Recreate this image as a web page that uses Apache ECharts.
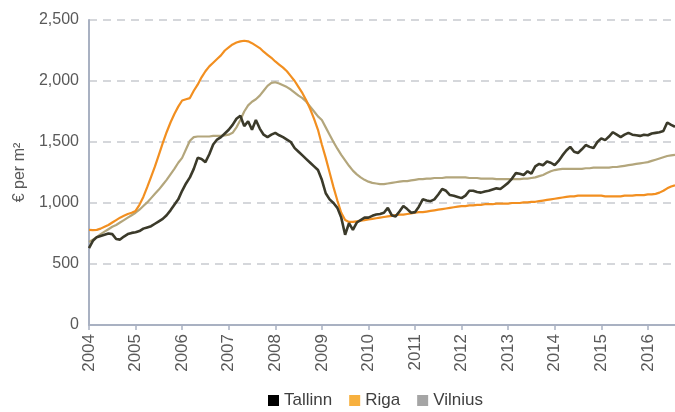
<!DOCTYPE html>
<html>
<head>
<meta charset="utf-8">
<script src="https://cdn.jsdelivr.net/npm/echarts@6/dist/echarts.min.js"></script>
<style>
  html, body { margin: 0; padding: 0; background: #fff; }
  #chart { width: 675px; height: 412px; }
</style>
</head>
<body>
<div id="chart"></div>
<script>
// monthly prices, Jan 2004 - Aug 2016, € per m²
const years = [2004, 2005, 2006, 2007, 2008, 2009, 2010, 2011, 2012, 2013, 2014, 2015, 2016]
const lastMonth = 8

const tallinn = [
  630, 690, 720, 730, 740, 750, 745, 705, 700, 725, 745, 755,
  760, 770, 790, 800, 810, 830, 850, 870, 900, 940, 985, 1030,
  1100, 1160, 1210, 1280, 1370, 1360, 1335, 1400, 1480, 1520, 1540, 1570,
  1600, 1640, 1690, 1715, 1630, 1670, 1600, 1680, 1610, 1560, 1540, 1560,
  1575, 1555, 1540, 1520, 1500, 1450, 1420, 1390, 1360, 1330, 1300, 1270,
  1190, 1080, 1030, 1000, 960, 880, 740, 835, 780, 840, 860, 880,
  880, 895, 905, 910, 920, 960, 900, 890, 930, 975, 950, 920,
  925, 970, 1030, 1020, 1015, 1030, 1070, 1115, 1100, 1065, 1060, 1050,
  1040, 1060, 1100, 1100, 1090, 1085, 1095, 1100, 1110, 1120, 1115, 1140,
  1165, 1200, 1245, 1240, 1230, 1260, 1240, 1300, 1320, 1310, 1340, 1330,
  1310, 1345, 1390, 1430, 1460, 1420, 1410, 1440, 1475, 1460, 1450, 1500,
  1530, 1515, 1545, 1580, 1560, 1540, 1560, 1575, 1560, 1555, 1550, 1560,
  1555, 1570, 1575, 1580, 1590, 1660, 1640, 1625
]

const riga = [
  780, 778, 780, 790, 805, 820, 840, 860, 880, 895, 910, 920,
  935, 985, 1050, 1130, 1215, 1300, 1395, 1490, 1580, 1660, 1730, 1790,
  1840, 1850, 1860, 1920, 1970, 2030, 2080, 2120, 2150, 2180, 2210, 2250,
  2275, 2300, 2315, 2325, 2330, 2325, 2310, 2290, 2270, 2240, 2215, 2190,
  2160, 2135, 2110, 2080, 2040, 2000, 1950, 1900, 1840, 1770, 1690, 1600,
  1480, 1370, 1250, 1130, 1020, 920, 860, 845, 845, 850, 855, 860,
  865, 870, 875, 880, 885, 890, 895, 900, 905, 905, 910, 915,
  920, 925, 925, 930, 935, 940, 945, 950, 955, 960, 965, 970,
  975, 975, 980, 980, 985, 985, 990, 990, 990, 995, 995, 995,
  995, 1000, 1000, 1000, 1005, 1005, 1010, 1010, 1015, 1020, 1025, 1030,
  1035, 1040, 1045, 1050, 1055, 1055, 1060, 1060, 1060, 1060, 1060, 1060,
  1060, 1055, 1055, 1055, 1055, 1055, 1060, 1060, 1060, 1065, 1065, 1065,
  1070, 1070, 1075, 1085, 1100, 1120, 1135, 1145
]

const vilnius = [
  680, 700, 720, 745, 765, 785, 805, 820, 840, 860, 880, 900,
  920, 945, 975, 1005, 1040, 1075, 1110, 1150, 1190, 1235, 1280, 1330,
  1370, 1440, 1510, 1540, 1545, 1545, 1545, 1545, 1550, 1550, 1550, 1555,
  1560, 1575, 1620, 1680, 1750, 1800, 1830, 1850, 1880, 1920, 1960, 1985,
  1990, 1980, 1965, 1950, 1930, 1905, 1880, 1860, 1830, 1790, 1750, 1710,
  1680, 1620, 1560, 1500, 1445, 1395, 1350, 1305, 1265, 1235, 1210, 1190,
  1175, 1165, 1160, 1155, 1155, 1160, 1165, 1170, 1175, 1180, 1180, 1185,
  1190, 1195, 1195, 1200, 1200, 1205, 1205, 1205, 1210, 1210, 1210, 1210,
  1210, 1210, 1205, 1205, 1205, 1200, 1200, 1200, 1200, 1195, 1195, 1195,
  1195, 1195, 1195, 1195, 1200, 1200, 1205, 1210, 1220, 1230, 1245, 1260,
  1270, 1275, 1280, 1280, 1280, 1280, 1280, 1280, 1285, 1285, 1290, 1290,
  1290, 1290, 1290, 1295, 1295, 1300, 1305, 1310, 1315, 1320, 1325, 1330,
  1335, 1345, 1355, 1365, 1375, 1385, 1390, 1395
]

// month categories "2004-01" ...
const months = []
years.forEach(y => {
  const n = y === years[years.length - 1] ? lastMonth : 12
  for (let m = 1; m <= n; m++) months.push(y + '-' + (m < 10 ? '0' + m : m))
})

const isJan = (i, v) => v.slice(5) === '01'
const axisColor = '#a9b1c2'
const textColor = '#595959'
const font = 'Liberation Sans, Arial, sans-serif'

const chart = echarts.init(document.getElementById('chart'))
chart.setOption({
  animation: false,
  grid: { left: 89, right: 0, top: 20, bottom: 87 },
  legend: {
    top: 387,
    left: 263,
    icon: 'rect',
    itemWidth: 11,
    itemHeight: 11,
    itemGap: 17,
    textStyle: { color: '#404040', fontSize: 17, fontFamily: font },
    data: ['Tallinn', 'Riga', 'Vilnius']
  },
  xAxis: {
    type: 'category',
    data: months,
    boundaryGap: false,
    axisLine: { lineStyle: { color: axisColor, width: 2 } },
    axisTick: { interval: isJan, length: 5, lineStyle: { color: axisColor, width: 1.5 } },
    axisLabel: {
      interval: isJan,
      rotate: 90,
      margin: 9,
      color: textColor,
      fontSize: 17,
      fontFamily: font,
      formatter: v => v.slice(0, 4)
    },
    splitLine: { show: false }
  },
  yAxis: {
    type: 'value',
    min: 0,
    max: 2500,
    interval: 500,
    name: '€ per m²',
    nameLocation: 'middle',
    nameGap: 60,
    nameTextStyle: { color: textColor, fontSize: 16, fontFamily: font },
    axisLine: { show: true, lineStyle: { color: axisColor, width: 2 } },
    axisTick: { show: false },
    axisLabel: {
      color: textColor,
      fontSize: 16,
      fontFamily: font,
      margin: 10,
      formatter: v => v.toLocaleString('en-US')
    },
    splitLine: { lineStyle: { color: '#c8cacf', width: 1.5, type: [8, 6] } }
  },
  series: [
    {
      name: 'Tallinn',
      type: 'line',
      data: tallinn,
      showSymbol: false,
      z: 4,
      itemStyle: { color: '#000000' },
      lineStyle: { color: '#3b3a2a', width: 2.6 }
    },
    {
      name: 'Riga',
      type: 'line',
      data: riga,
      showSymbol: false,
      z: 3,
      itemStyle: { color: '#f7b03e' },
      lineStyle: { color: '#f28f20', width: 2.2 }
    },
    {
      name: 'Vilnius',
      type: 'line',
      data: vilnius,
      showSymbol: false,
      z: 2,
      itemStyle: { color: '#a5a5a5' },
      lineStyle: { color: '#b3a67c', width: 2.2 }
    }
  ]
})
</script>
</body>
</html>
